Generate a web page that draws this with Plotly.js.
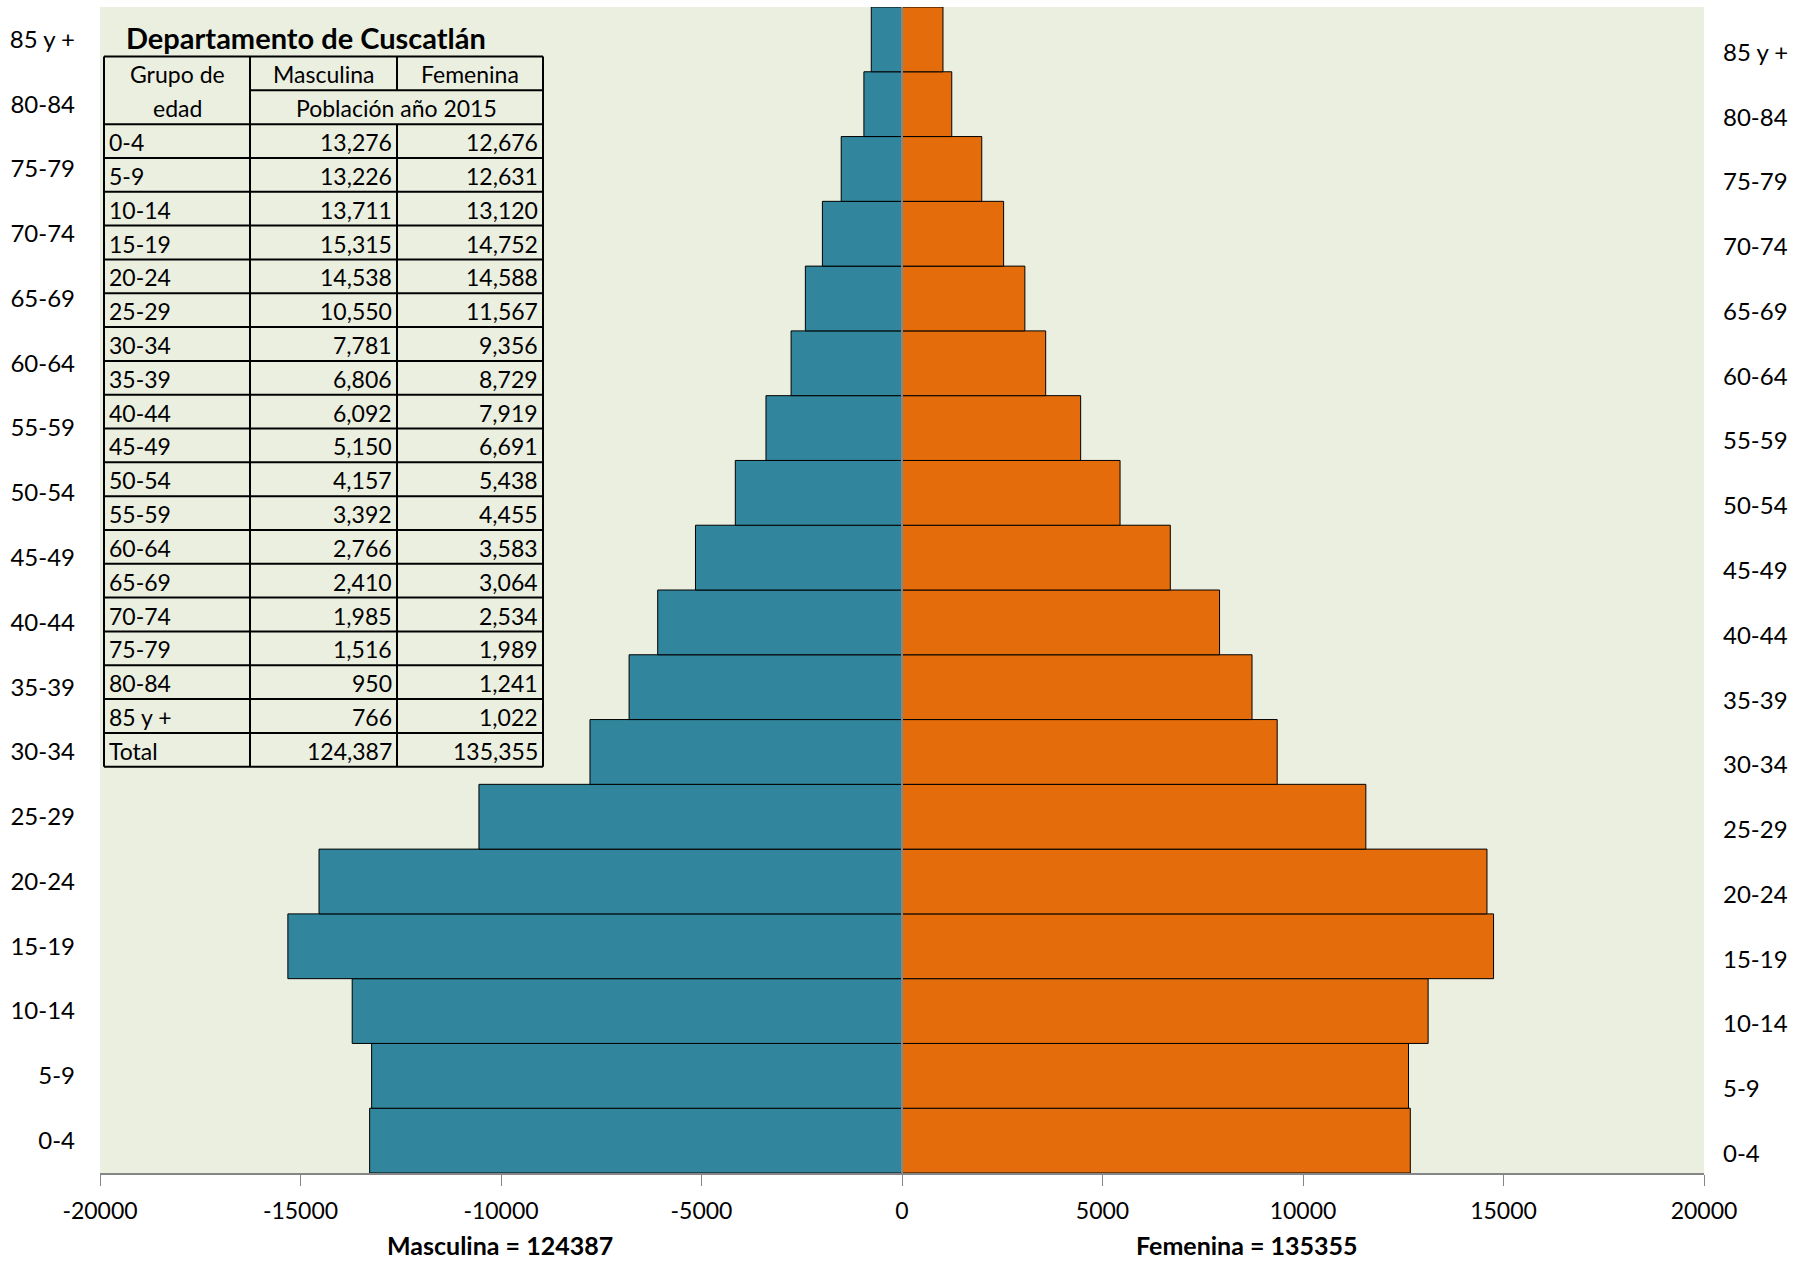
<!DOCTYPE html>
<html>
<head>
<meta charset="utf-8">
<script src="https://cdn.plot.ly/plotly-3.0.1.min.js"></script>
<style>html,body{margin:0;padding:0;background:#fff;}#chart{width:1808px;height:1261px;}</style>
</head>
<body>
<div id="chart"></div>
<script>
// ---- Data ----
const ageGroups = ['0-4','5-9','10-14','15-19','20-24','25-29','30-34','35-39','40-44','45-49','50-54','55-59','60-64','65-69','70-74','75-79','80-84','85 y +'];
const masculina = [13276,13226,13711,15315,14538,10550,7781,6806,6092,5150,4157,3392,2766,2410,1985,1516,950,766];
const femenina  = [12676,12631,13120,14752,14588,11567,9356,8729,7919,6691,5438,4455,3583,3064,2534,1989,1241,1022];
const xTickVals = [-20000,-15000,-10000,-5000,0,5000,10000,15000,20000];
const tableTitle = 'Departamento de Cuscatlán';
const headerGroup = ['Grupo de','edad'];
const headerSexes = ['Masculina','Femenina'];
const headerYear = 'Población año 2015';
const totalLabel = 'Total';

// ---- Derived ----
const totalM = masculina.reduce((a,b)=>a+b,0);
const totalF = femenina.reduce((a,b)=>a+b,0);
const fmt = v => v.toLocaleString('en-US');

// ---- Geometry helpers (pixels -> paper) ----
const W = 1808, H = 1261;
const M = {l:100, r:104, t:7, b:88};
const PW = W - M.l - M.r, PH = H - M.t - M.b;
const px = x => (x - M.l) / PW;
const py = y => 1 - (y - M.t) / PH;

const FONT = 'Lato, Carlito, Calibri, sans-serif';
const fontN = {family: FONT, size: 23, color: '#000'};

// table geometry
const colX = [104, 250, 397, 543];
const rowTop = 56.5, rowH = 33.82;
const nRows = 2 + ageGroups.length + 1;
const rowY = i => rowTop + i * rowH;

const shapes = [];
const annotations = [];
const line = (x0,y0,x1,y1) => shapes.push({type:'line', xref:'paper', yref:'paper', x0:px(x0), y0:py(y0), x1:px(x1), y1:py(y1), line:{color:'#000', width:2}, layer:'above'});

// outer border
line(colX[0], rowY(0), colX[3], rowY(0));
line(colX[0], rowY(nRows), colX[3], rowY(nRows));
line(colX[0], rowY(0), colX[0], rowY(nRows));
line(colX[3], rowY(0), colX[3], rowY(nRows));
// horizontal inner lines
line(colX[1], rowY(1), colX[3], rowY(1));
for (let i = 2; i < nRows; i++) line(colX[0], rowY(i), colX[3], rowY(i));
// vertical inner lines
line(colX[1], rowY(0), colX[1], rowY(nRows));
line(colX[2], rowY(0), colX[2], rowY(1));
line(colX[2], rowY(2), colX[2], rowY(nRows));

const txt = (text, x, y, xanchor, font) => annotations.push({text, xref:'paper', yref:'paper', x:px(x), y:py(y), xanchor, yanchor:'middle', showarrow:false, font: font || fontN});
const rowMid = i => rowY(i) + rowH/2 + 1;

// title
txt('<b>' + tableTitle + '</b>', 124, 37, 'left', {family: FONT, size: 29, color:'#000'});
// headers
txt(headerGroup[0], (colX[0]+colX[1])/2, rowMid(0), 'center');
txt(headerGroup[1], (colX[0]+colX[1])/2, rowMid(1), 'center');
txt(headerSexes[0], (colX[1]+colX[2])/2, rowMid(0), 'center');
txt(headerSexes[1], (colX[2]+colX[3])/2, rowMid(0), 'center');
txt(headerYear, (colX[1]+colX[3])/2, rowMid(1), 'center');
// body
ageGroups.forEach((g, k) => {
  const r = 2 + k;
  txt(g, colX[0] + 3, rowMid(r), 'left');
  txt(fmt(masculina[k]), colX[2] - 3, rowMid(r), 'right');
  txt(fmt(femenina[k]), colX[3] - 3, rowMid(r), 'right');
});
const rT = nRows - 1;
txt(totalLabel, colX[0] + 3, rowMid(rT), 'left');
txt(fmt(totalM), colX[2] - 3, rowMid(rT), 'right');
txt(fmt(totalF), colX[3] - 3, rowMid(rT), 'right');

// bottom totals
annotations.push({text:'<b>Masculina = ' + totalM + '</b>', xref:'paper', yref:'paper', x:px(500), y:0, yshift:-72, xanchor:'center', yanchor:'middle', showarrow:false, font:{family:FONT, size:25, color:'#000'}});
annotations.push({text:'<b>Femenina = ' + totalF + '</b>', xref:'paper', yref:'paper', x:px(1247), y:0, yshift:-72, xanchor:'center', yanchor:'middle', showarrow:false, font:{family:FONT, size:25, color:'#000'}});

// zero line
shapes.push({type:'line', xref:'x', yref:'paper', x0:0, x1:0, y0:0, y1:1, line:{color:'#868686', width:2}, layer:'above'});

const traces = [
  {type:'bar', orientation:'h', y:ageGroups, x:masculina.map(v=>-v), name:'Masculina',
   marker:{color:'#31859C', line:{color:'#000', width:1}}, hoverinfo:'y+text', text:masculina.map(fmt), textposition:'none'},
  {type:'bar', orientation:'h', y:ageGroups, x:femenina, name:'Femenina',
   marker:{color:'#E46C0A', line:{color:'#000', width:1}}, hoverinfo:'y+x'},
  {type:'scatter', mode:'markers', y:ageGroups, x:ageGroups.map(()=>0), yaxis:'y2',
   marker:{opacity:0, size:1}, hoverinfo:'skip', showlegend:false}
];

const layout = {
  width: W, height: H, autosize: false,
  margin: {l:M.l, r:M.r, t:M.t, b:M.b, pad:0},
  paper_bgcolor: '#ffffff',
  plot_bgcolor: '#EBEFE0',
  font: {family: FONT, size: 22, color: '#000'},
  showlegend: false,
  barmode: 'overlay',
  bargap: 0,
  xaxis: {
    range: [-20000, 20000], tickvals: xTickVals, ticktext: xTickVals.map(v => String(v)),
    showgrid: false, zeroline: false,
    showline: true, linecolor: '#868686', linewidth: 2,
    ticks: 'outside', ticklen: 11, tickcolor: '#868686', tickwidth: 1,
    ticklabelstandoff: 5,
    tickfont: {family: FONT, size: 23, color: '#000'}
  },
  yaxis: {
    type: 'category', categoryarray: ageGroups, range: [-0.5, ageGroups.length - 0.5],
    showgrid: false, zeroline: false, showline: false, ticks: '',
    ticklabelstandoff: 24,
    tickfont: {family: FONT, size: 24, color: '#000'}
  },
  yaxis2: {
    type: 'category', categoryarray: ageGroups, overlaying: 'y', side: 'right',
    range: [-0.5 + 0.2, ageGroups.length - 0.5 + 0.2],
    showgrid: false, zeroline: false, showline: false, ticks: '',
    ticklabelstandoff: 18,
    tickfont: {family: FONT, size: 24, color: '#000'}
  },
  shapes, annotations
};

Plotly.newPlot('chart', traces, layout, {staticPlot: true, displayModeBar: false});
</script>
</body>
</html>
